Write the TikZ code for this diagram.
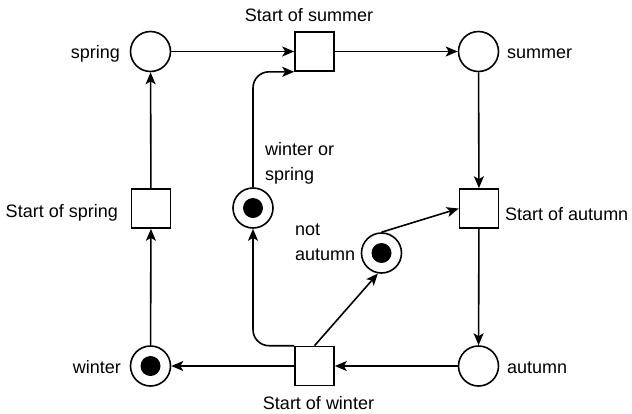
\documentclass[tikz,border=0pt]{standalone}
\usepackage{fontspec}
\setmainfont{Liberation Sans}
\usetikzlibrary{arrows.meta}
\begin{document}
\begin{tikzpicture}[x=1pt,y=-1pt,
  every node/.style={font=\fontsize{18}{22}\selectfont},
  place/.style={draw,circle,line width=1.6pt,minimum size=40pt,inner sep=0pt},
  trans/.style={draw,rectangle,line width=1.6pt,minimum size=39pt,inner sep=0pt},
  token/.style={fill=black,circle,minimum size=20pt,inner sep=0pt},
  lbl/.style={inner sep=0pt},
  arc/.style={line width=1.6pt,-{Stealth[length=12pt,width=10pt,inset=3pt]}},
  line/.style={line width=1.6pt}]
\path[use as bounding box] (0,0) rectangle (632,413);

% places
\node[place] (spring) at (150.5,51.5) {};
\node[place] (summer) at (478.5,51.5) {};
\node[place] (autumn) at (478.5,366) {};
\node[place] (winter) at (150.5,366) {};
\node[token] (wtok) at (winter) {};
\node[place] (wos) at (253,208) {};
\node[token] (wostok) at (wos) {};
\node[place] (na) at (381.5,253) {};
\node[token] (natok) at (na) {};

% transitions
\node[trans] (ss) at (314.5,51.5) {};
\node[trans] (sa) at (479,208.5) {};
\node[trans] (sw) at (314.5,366) {};
\node[trans] (sp) at (151,208.5) {};

% labels
\node[lbl,anchor=base east] (lspring) at (120,58) {spring};
\node[lbl,anchor=base west] (lsummer) at (507,58) {summer};
\node[lbl,anchor=base] (lss) at (309,21) {Start of summer};
\node[lbl,anchor=base east] (lsp) at (118,217) {Start of spring};
\node[lbl,anchor=base west] (lsa) at (505,220) {Start of autumn};
\node[lbl,anchor=base west] (lwos1) at (265,155) {winter or};
\node[lbl,anchor=base west] (lwos2) at (265,180) {spring};
\node[lbl,anchor=base west] (lna1) at (295,235) {not};
\node[lbl,anchor=base west] (lna2) at (295,260) {autumn};
\node[lbl,anchor=base east] (lwinter) at (121,373) {winter};
\node[lbl,anchor=base west] (lautumn) at (507,373) {autumn};
\node[lbl,anchor=base] (lsw) at (318.5,409) {Start of winter};

% arcs
\draw[arc] (spring) -- (ss);
\draw[arc] (ss) -- (summer);
\draw[arc] (summer) -- (sa);
\draw[arc] (sa) -- (autumn);
\draw[arc] (autumn) -- (sw);
\draw[arc] (sw) -- (winter);
\draw[arc] (winter) -- (sp);
\draw[arc] (sp) -- (spring);
\draw[arc,rounded corners=16pt] (sw.north west) -| (wos.south);
\draw[arc,rounded corners=16pt] (wos.north) |- (ss.south west);
\draw[arc] (sw.north) -- (na.-100);
\draw[arc] (na.north) -- (sa.west);
\end{tikzpicture}
\end{document}
